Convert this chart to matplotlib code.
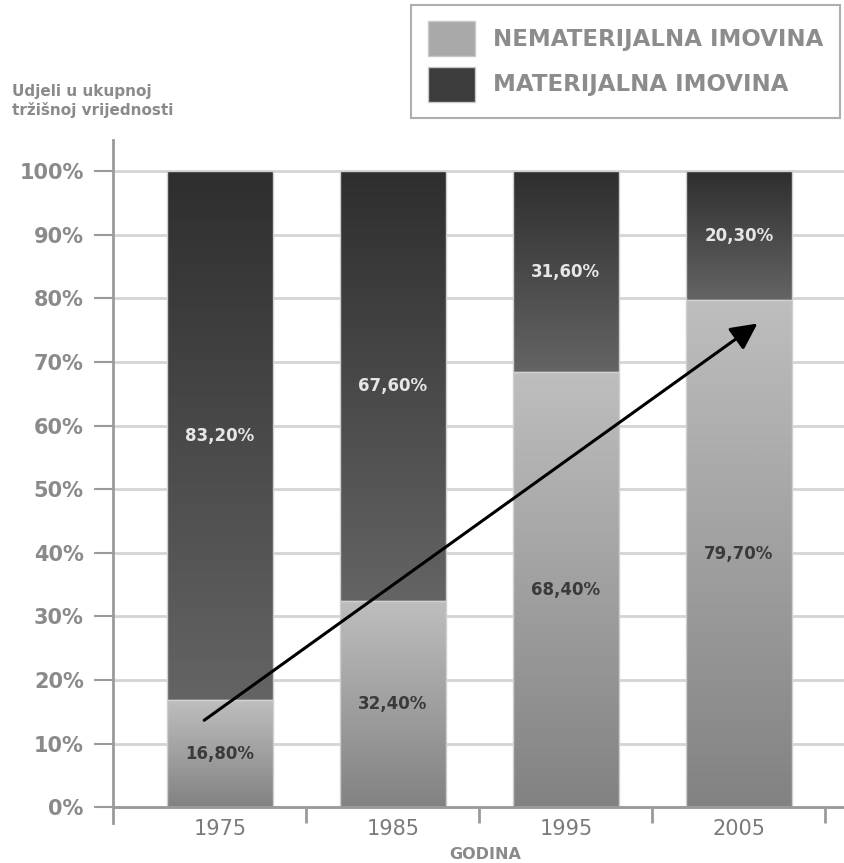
import numpy as np
import matplotlib.pyplot as plt
from matplotlib.patches import Patch
from matplotlib.colors import LinearSegmentedColormap

# data
years = ['1975', '1985', '1995', '2005']
nematerijalna = [16.8, 32.4, 68.4, 79.7]
materijalna = [83.2, 67.6, 31.6, 20.3]
labels_nem = ['16,80%', '32,40%', '68,40%', '79,70%']
labels_mat = ['83,20%', '67,60%', '31,60%', '20,30%']

plt.rcParams['font.family'] = ['DejaVu Sans']

fig = plt.figure(figsize=(8.45, 8.63), dpi=100)
ax = fig.add_axes([113 / 845, 40 / 863, 732 / 845, 683 / 863])

x = np.arange(len(years))
w = 0.61

light_cmap = LinearSegmentedColormap.from_list('light', ['#828282', '#bebebe'])
dark_cmap = LinearSegmentedColormap.from_list('dark', ['#646464', '#2e2e2e'])
grad = np.linspace(0, 1, 256).reshape(-1, 1)

bars_nem = ax.bar(x, nematerijalna, w, color='none', edgecolor='#cfcfcf', lw=1, zorder=3)
bars_mat = ax.bar(x, materijalna, w, bottom=nematerijalna, color='none', edgecolor='#cfcfcf', lw=1, zorder=3)

# gradient fill clipped to each bar
for bars, cmap in [(bars_nem, light_cmap), (bars_mat, dark_cmap)]:
    for b in bars:
        x0, y0 = b.get_x(), b.get_y()
        im = ax.imshow(grad, cmap=cmap, origin='lower', aspect='auto',
                       extent=[x0, x0 + b.get_width(), y0, y0 + b.get_height()],
                       zorder=2)
        im.set_clip_path(b)

for i in range(len(years)):
    ax.text(x[i], nematerijalna[i] / 2, labels_nem[i], ha='center', va='center',
            fontsize=12, fontweight='bold', color='#3a3a3a', zorder=5)
    ax.text(x[i], nematerijalna[i] + materijalna[i] / 2, labels_mat[i], ha='center', va='center',
            fontsize=12, fontweight='bold', color='#e6e6e6', zorder=5)

# arrow
ax.annotate('', xy=(3.12, 76.3), xytext=(-0.104, 13.4),
            arrowprops=dict(arrowstyle='-|>', color='black', lw=2.2, mutation_scale=40),
            zorder=6)

ax.set_xlim(-0.618, 3.613)
ax.set_ylim(-2.5, 104.9)

ax.set_yticks(np.arange(0, 101, 10))
ax.set_yticklabels([f'{v}%' for v in range(0, 101, 10)], fontsize=15, fontweight='bold', color='#8a8a8a')
ax.yaxis.grid(True, color='#d4d4d4', lw=2, zorder=0)
ax.axhline(0, color='#9a9a9a', lw=2, zorder=4)
ax.tick_params(axis='y', length=14, width=1.5, color='#9a9a9a', pad=7)

ax.set_xticks(x)
ax.set_xticklabels(years, fontsize=15, color='#7a7a7a')
ax.set_xticks(np.arange(0.5, 4, 1), minor=True)
ax.tick_params(axis='x', which='major', length=0, pad=-3)
ax.tick_params(axis='x', which='minor', direction='in', length=11.5, width=2, color='#9a9a9a')

for s in ['top', 'right', 'bottom']:
    ax.spines[s].set_visible(False)
ax.spines['left'].set_color('#9a9a9a')
ax.spines['left'].set_linewidth(2)

fig.text(485 / 845, 1 - 854 / 863, 'GODINA', ha='center', va='center',
         fontsize=11.5, fontweight='bold', color='#8a8a8a')
fig.text(12 / 845, 1 - 101 / 863, 'Udjeli u ukupnoj\ntržišnoj vrijednosti', ha='left', va='center',
         fontsize=11, fontweight='bold', color='#8a8a8a', linespacing=1.3)

handles = [Patch(facecolor='#a9a9a9', edgecolor='#c8c8c8'),
           Patch(facecolor='#3c3c3c', edgecolor='#c8c8c8')]
leg = fig.legend(handles, ['NEMATERIJALNA IMOVINA', 'MATERIJALNA IMOVINA'],
                 loc='upper right', bbox_to_anchor=(840 / 845, 1 - 5 / 863),
                 fontsize=16.5, handlelength=2.05, handleheight=1.97, labelspacing=0.44,
                 borderpad=0.72, handletextpad=0.8, fancybox=False, borderaxespad=0)
leg.get_frame().set_edgecolor('#9a9a9a')
leg.get_frame().set_linewidth(1.5)
for t in leg.get_texts():
    t.set_color('#8c8c8c')
    t.set_fontweight('bold')

fig.savefig('out.png', dpi=100)
